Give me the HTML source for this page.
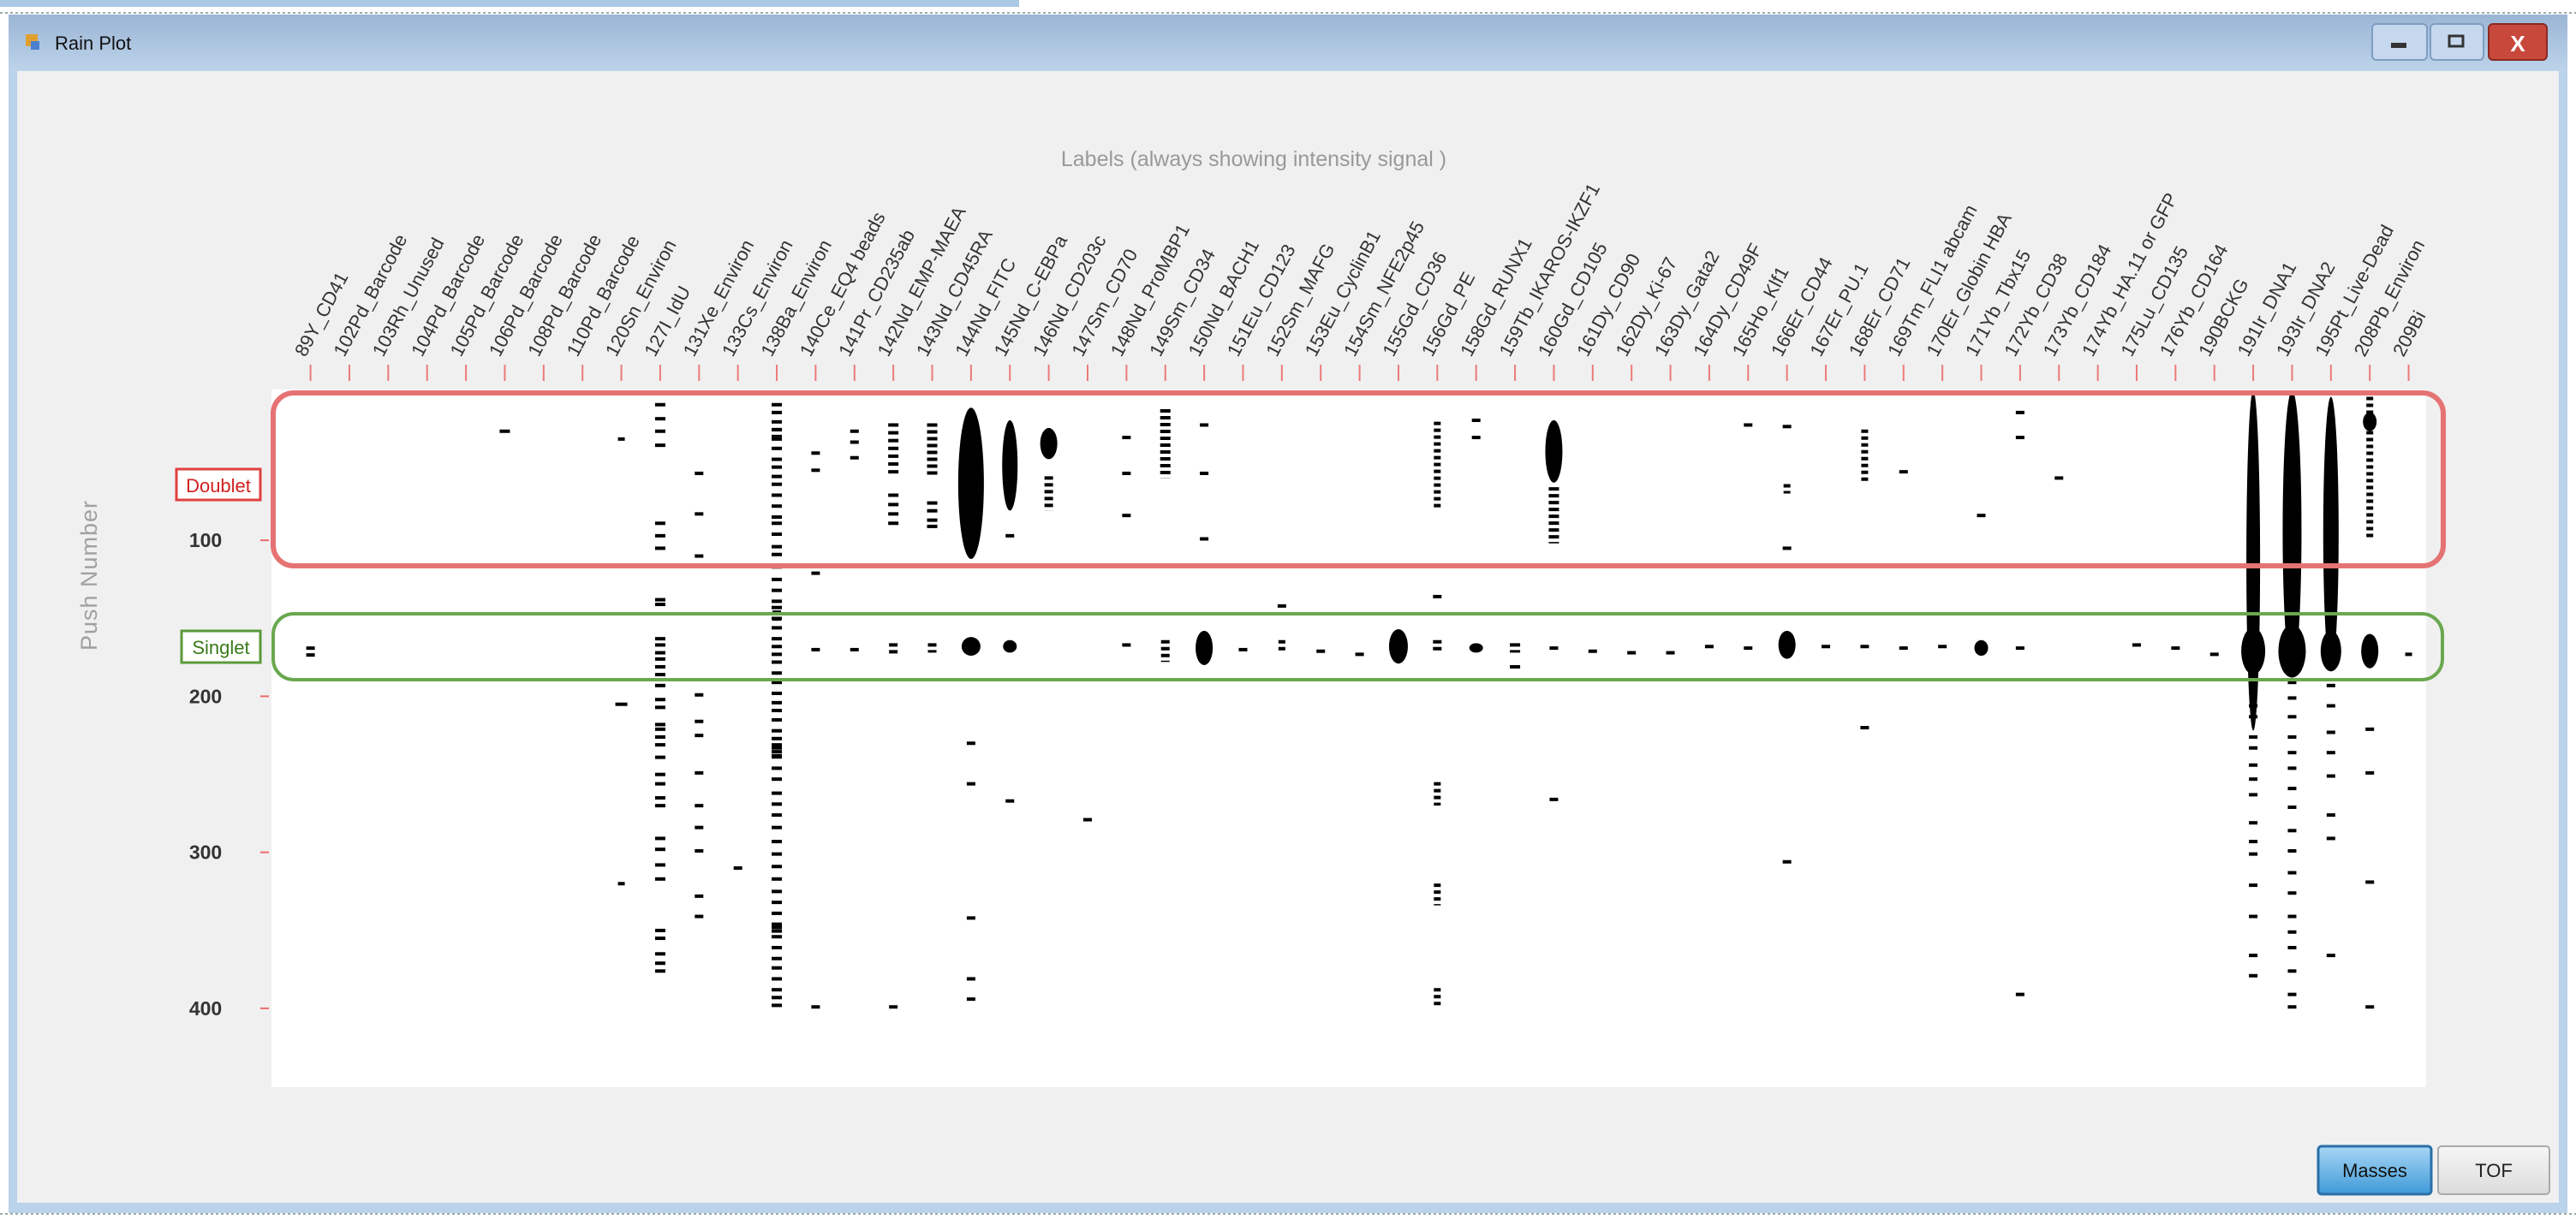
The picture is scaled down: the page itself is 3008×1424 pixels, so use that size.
<!DOCTYPE html>
<html><head><meta charset="utf-8"><title>Rain Plot</title>
<style>
html,body{margin:0;padding:0;background:#fff;}
svg{display:block;font-family:"Liberation Sans",sans-serif;}
</style></head>
<body>
<svg id="chart" width="3008" height="1424" viewBox="0 0 3008 1424" xmlns="http://www.w3.org/2000/svg">
<defs>
<linearGradient id="tb" x1="0" y1="0" x2="0" y2="1"><stop offset="0" stop-color="#9bb5d5"/><stop offset="1" stop-color="#bcd3ea"/></linearGradient>
<linearGradient id="bm" x1="0" y1="0" x2="0" y2="1"><stop offset="0" stop-color="#a9d6f5"/><stop offset="1" stop-color="#3e9ad8"/></linearGradient>
<linearGradient id="bt" x1="0" y1="0" x2="0" y2="1"><stop offset="0" stop-color="#f6f6f6"/><stop offset="1" stop-color="#dcdcdc"/></linearGradient>
</defs>
<rect x="0" y="0" width="1190" height="8" fill="#a9c8e3"/>
<line x1="0" y1="15" x2="3008" y2="15" stroke="#9aa" stroke-width="2" stroke-dasharray="3,3"/>
<rect x="10" y="17" width="2988" height="1400" fill="#bad2ea"/>
<rect x="10" y="17" width="2988" height="66" fill="url(#tb)"/>
<rect x="30" y="40" width="14" height="14" fill="#e0a030"/>
<rect x="36" y="48" width="10" height="10" fill="#4a7fd0"/>
<text x="64" y="58" font-size="22" fill="#111">Rain Plot</text>
<rect x="2770" y="28" width="64" height="42" rx="5" fill="#c6d8ee" stroke="#7f9dc2" stroke-width="2"/>
<rect x="2792" y="50" width="18" height="6" fill="#333"/>
<rect x="2838" y="28" width="62" height="42" rx="5" fill="#c6d8ee" stroke="#7f9dc2" stroke-width="2"/>
<rect x="2860" y="42" width="16" height="12" fill="none" stroke="#333" stroke-width="3"/>
<rect x="2906" y="28" width="68" height="42" rx="5" fill="#c8483c" stroke="#8a2a22" stroke-width="2"/>
<text x="2940" y="60" font-size="26" fill="#fff" text-anchor="middle" font-weight="bold">X</text>
<rect x="20" y="83" width="2968" height="1322" fill="#f0f0f0"/>
<rect x="317" y="455" width="2516" height="815" fill="#ffffff"/>
<text x="1464" y="194" font-size="25" fill="#999" text-anchor="middle">Labels (always showing intensity signal )</text>
<text x="0" y="0" font-size="27" fill="#a0a0a0" text-anchor="middle" transform="translate(113,672) rotate(-90)" letter-spacing="1">Push Number</text>
<g id="labels"></g>
<g id="ticks"></g>
<g id="yaxis"></g>
<g id="marks"></g>
<rect x="319" y="459" width="2534" height="202" rx="24" fill="none" stroke="#e57373" stroke-width="6"/>
<rect x="319" y="717" width="2533" height="77" rx="24" fill="none" stroke="#6aa84f" stroke-width="4"/>
<rect x="206" y="548" width="98" height="36" fill="#fff" stroke="#e04040" stroke-width="3"/>
<text x="255" y="575" font-size="22" fill="#d02020" text-anchor="middle">Doublet</text>
<rect x="212" y="737" width="92" height="37" fill="#fff" stroke="#5a9a3a" stroke-width="3"/>
<text x="258" y="764" font-size="22" fill="#3a7a1a" text-anchor="middle">Singlet</text>
<rect x="2707" y="1339" width="132" height="56" rx="4" fill="url(#bm)" stroke="#2a6fa8" stroke-width="3"/>
<text x="2773" y="1375" font-size="22" fill="#111" text-anchor="middle">Masses</text>
<rect x="2847" y="1339" width="130" height="56" rx="4" fill="url(#bt)" stroke="#aaa" stroke-width="2"/>
<text x="2912" y="1375" font-size="22" fill="#222" text-anchor="middle">TOF</text>
<line x1="0" y1="1418" x2="3008" y2="1418" stroke="#9aa" stroke-width="2" stroke-dasharray="3,3"/>
</svg>
<script>
const categories = ["89Y_CD41","102Pd_Barcode","103Rh_Unused","104Pd_Barcode","105Pd_Barcode","106Pd_Barcode","108Pd_Barcode","110Pd_Barcode","120Sn_Environ","127I_IdU","131Xe_Environ","133Cs_Environ","138Ba_Environ","140Ce_EQ4 beads","141Pr_CD235ab","142Nd_EMP-MAEA","143Nd_CD45RA","144Nd_FITC","145Nd_C-EBPa","146Nd_CD203c","147Sm_CD70","148Nd_ProMBP1","149Sm_CD34","150Nd_BACH1","151Eu_CD123","152Sm_MAFG","153Eu_CyclinB1","154Sm_NFE2p45","155Gd_CD36","156Gd_PE","158Gd_RUNX1","159Tb_IKAROS-IKZF1","160Gd_CD105","161Dy_CD90","162Dy_Ki-67","163Dy_Gata2","164Dy_CD49F","165Ho_Klf1","166Er_CD44","167Er_PU.1","168Er_CD71","169Tm_FLI1 abcam","170Er_Globin HBA","171Yb_Tbx15","172Yb_CD38","173Yb_CD184","174Yb_HA.11 or GFP","175Lu_CD135","176Yb_CD164","190BCKG","191Ir_DNA1","193Ir_DNA2","195Pt_Live-Dead","208Pb_Environ","209Bi"];
const yTicks = [100,200,300,400];
// event columns, push start, push span, mark width
const eventCol = [0,5,8,8,8, 9,9,9,9,9,9,9,9,9,9,9,9,9,9,9,9,9,9,9,9,9,9,9,9,9,9,9,9,9,9,9,9,9,9,9,9, 10,10,10,10,10,10,10,10,10,10,10,10, 11,
12,12,12,12,12,12,12,12,12,12,12,12,12,12,12,12,12,12,12,12,12,12,12,12,12,12,12,12,12,12,12,12,12,12,12,12,12,12,12,12,12,12,12,12,12,12,12,12,12,12,12,12,12,12,12,12,12,12,12,12,12,12,12,12,
13,13,13,13,13, 14,14,14,14, 15,15,15,15,15,15,15,15,15,15,15,15,15, 16,16,16,16,16,16, 17,17,17,17,17,17,17, 18,18,18,18, 19,19, 20, 21,21,21,21, 22,22, 23,23,23,23, 24, 25,25, 26, 27, 28,
29,29,29,29,29,29, 30,30,30, 31,31, 32,32,32,32, 33,34,35,36, 37,37, 38,38,38,38,38, 39, 40,40,40, 41,41, 42, 43,43, 44,44,44,44, 45, 47, 48, 49,
50,50,50,50,50,50,50,50,50,50,50,50,50,50,50,50,50,50,50,
51,51,51,51,51,51,51,51,51,51,51,51,51,51,51,51,51,51,51,51,
52,52,52,52,52,52,52,52,52,52,
53,53,53,53,53,53,53, 54];
const eventPush = [168,29,34,204,319, 12,21,29,38,88,96,104,137,140,162,166,171,175,180,185,192,201,206,217,220,225,230,238,249,255,264,269,290,297,307,316,349,354,364,370,375, 56,82,109,198,215,224,248,269,283,298,327,340, 309,
12,17,23,28,34,40,47,52,58,63,70,77,84,88,95,103,108,116,124,131,138,142,149,155,162,167,172,177,184,190,197,203,208,214,221,226,232,237,245,252,261,268,275,283,292,300,308,316,324,331,338,347,353,360,367,373,380,387,392,397,28,145,230,345,
43,54,120,169,398, 29,36,46,169, 25,30,35,40,45,50,55,70,76,82,88,166,398, 25,75,80,86,90,166, 15,162,229,255,341,380,393, 23,96,164,266, 28,59, 278, 33,56,83,166, 16,164, 25,56,98,158, 169, 141,164, 170, 172, 157,
24,135,164,255,320,387, 22,33,166, 166,180, 23,66,168,265, 170,171,171,167, 25,168, 26,64,104,158,305, 167, 29,167,219, 55,168, 167, 83,164, 17,33,168,390, 59, 166, 168, 172,
4,156,183,190,196,205,212,225,232,243,252,262,280,292,300,320,340,365,378,
4,154,190,200,212,225,235,245,258,270,285,298,312,325,340,350,360,375,390,398,
8,158,192,205,222,235,250,275,290,365,
8,18,160,220,248,318,398, 172];
const eventSpan = [7,0,0,0,0, 0,0,0,0,0,0,0,0,0,0,0,0,0,0,0,0,0,0,0,0,0,0,0,0,0,0,0,0,0,0,0,0,0,0,0,0, 0,0,0,0,0,0,0,0,0,0,0,0, 0,
0,0,0,0,0,0,0,0,0,0,0,0,0,0,0,0,0,0,0,0,0,0,0,0,0,0,0,0,0,0,0,0,0,0,0,0,0,0,0,0,0,0,0,0,0,0,0,0,0,0,0,0,0,0,0,0,0,0,0,0,6,8,10,8,
0,0,0,0,0, 0,0,0,0, 0,0,0,0,0,0,0,0,0,0,0,8,0, 34,0,0,0,0,6, 97,12,0,0,0,0,0, 58,0,8,0, 20,22, 0, 0,0,0,0, 44,14, 0,0,0,22, 0, 0,8, 0, 0, 22,
56,0,8,15,14,11, 0,0,6, 6,0, 40,36,0,0, 0,0,0,0, 0,0, 0,6,0,18,0, 0, 35,0,0, 0,0, 0, 0,10, 0,0,0,0, 0, 0, 0, 0,
218,30,0,0,0,0,0,0,0,0,0,0,0,0,0,0,0,0,0,
180,34,0,0,0,0,0,0,0,0,0,0,0,0,0,0,0,0,0,0,
175,26,0,0,0,0,0,0,0,0,
92,12,22,0,0,0,0, 0];
const eventWidth = [10,12,8,14,8, 12,12,12,12,12,12,12,12,12,12,12,12,12,12,12,12,12,12,12,12,12,12,12,12,12,12,12,12,12,12,12,12,12,12,12,12, 10,10,10,10,10,10,10,10,10,10,10,10, 10,
12,12,12,12,12,12,12,12,12,12,12,12,12,12,12,12,12,12,12,12,12,12,12,12,12,12,12,12,12,12,12,12,12,12,12,12,12,12,12,12,12,12,12,12,12,12,12,12,12,12,12,12,12,12,12,12,12,12,12,12,12,10,12,12,
10,10,10,10,10, 10,10,10,10, 12,12,12,12,12,12,12,12,12,12,12,10,10, 12,12,12,12,12,10, 30,22,10,10,10,10,10, 18,10,16,10, 20,10, 10, 10,10,10,10, 12,10, 10,10,10,20, 10, 10,8, 10, 10, 22,
8,10,10,8,8,8, 10,10,16, 12,12, 20,12,10,10, 10,10,10,10, 10,10, 10,8,10,20,10, 10, 8,10,10, 10,10, 10, 10,16, 10,10,10,10, 10, 10, 10, 10,
16,28,10,10,10,10,10,10,10,10,10,10,10,10,10,10,10,10,10,
22,32,10,10,10,10,10,10,10,10,10,10,10,10,10,10,10,10,10,10,
18,24,10,10,10,10,10,10,10,10,
8,16,20,10,10,10,10, 8];

const NS = "http://www.w3.org/2000/svg";
function xCol(c){ return 362.6 + c*45.37; }
function yPush(p){ return 448.9 + p*1.8225; }

const gl = document.getElementById('labels');
const gt = document.getElementById('ticks');
categories.forEach((name,i)=>{
  const x = xCol(i);
  const t = document.createElementNS(NS,'text');
  
  
  t.setAttribute('x', 0); t.setAttribute('y', 0);
  t.setAttribute('font-size', 22);
  t.setAttribute('fill', '#333');
  t.setAttribute('transform', 'translate(' + (x-6) + ',418) rotate(-62)');
  t.textContent = name;
  gl.appendChild(t);
  const l = document.createElementNS(NS,'line');
  
  
  l.setAttribute('x1', x); l.setAttribute('x2', x);
  l.setAttribute('y1', 426); l.setAttribute('y2', 445);
  l.setAttribute('stroke', '#ec7a7a'); l.setAttribute('stroke-width', 2);
  gt.appendChild(l);
});

const gy = document.getElementById('yaxis');
yTicks.forEach(v=>{
  const y = yPush(v);
  const t = document.createElementNS(NS,'text');
  
  
  t.setAttribute('x', 240); t.setAttribute('y', y+8);
  t.setAttribute('font-size', 23); t.setAttribute('font-weight', 'bold');
  t.setAttribute('fill', '#333'); t.setAttribute('text-anchor', 'middle');
  t.textContent = v;
  gy.appendChild(t);
  const l = document.createElementNS(NS,'line');
  
  
  l.setAttribute('x1', 304); l.setAttribute('x2', 314);
  l.setAttribute('y1', y); l.setAttribute('y2', y);
  l.setAttribute('stroke', '#ec6a6a'); l.setAttribute('stroke-width', 2);
  gy.appendChild(l);
});

const gm = document.getElementById('marks');
for (let i=0;i<eventCol.length;i++){
  const cx = xCol(eventCol[i]);
  const y0 = yPush(eventPush[i]);
  const w = eventWidth[i];
  const span = eventSpan[i];
  let el;
  if (span > 0 && w >= 14) {
    el = document.createElementNS(NS,'ellipse');
    const h = span*1.8225;
    el.setAttribute('cx', cx); el.setAttribute('cy', y0 + h/2);
    el.setAttribute('rx', w/2); el.setAttribute('ry', Math.max(h/2,4));
    el.setAttribute('fill', '#000');
  } else if (span > 0) {
    el = document.createElementNS(NS,'line');
    el.setAttribute('x1', cx); el.setAttribute('x2', cx);
    el.setAttribute('y1', y0); el.setAttribute('y2', y0 + span*1.8225);
    el.setAttribute('stroke', '#000');
    el.setAttribute('stroke-width', w);
    el.setAttribute('stroke-dasharray', '4,4');
  } else {
    el = document.createElementNS(NS,'rect');
    el.setAttribute('x', cx - w/2); el.setAttribute('y', y0);
    el.setAttribute('width', w); el.setAttribute('height', 4);
    el.setAttribute('fill', '#000');
  }
  
  
  gm.appendChild(el);
}
</script>
</body></html>
